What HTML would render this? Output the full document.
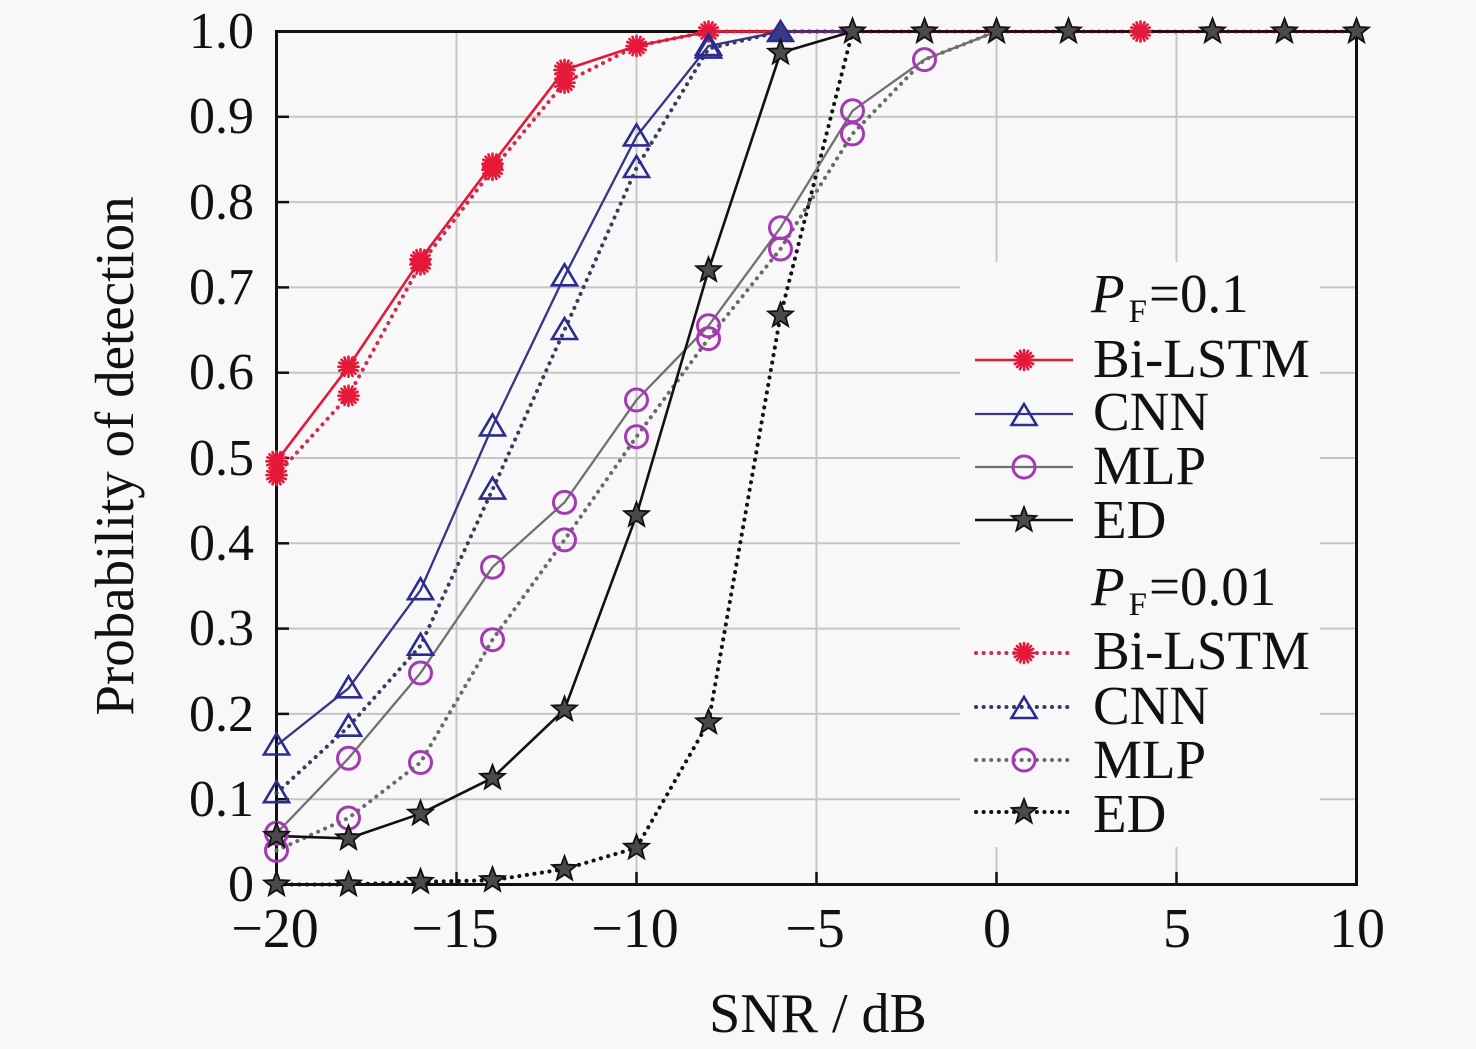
<!DOCTYPE html>
<html>
<head>
<meta charset="utf-8">
<style>
html,body{margin:0;padding:0;background:#f8f8f8;}
svg{display:block;}
text{font-family:"Liberation Serif","Times New Roman",serif;fill:#111;}
</style>
</head>
<body>
<svg width="1476" height="1049" viewBox="0 0 1476 1049" xmlns="http://www.w3.org/2000/svg">
<defs>
  <g id="ast">
    <g stroke="#e5183a" stroke-width="2.6" stroke-linecap="round">
      <line x1="0" y1="-10" x2="0" y2="10"/>
      <line x1="-10" y1="0" x2="10" y2="0"/>
      <line x1="-7" y1="-7" x2="7" y2="7"/>
      <line x1="-7" y1="7" x2="7" y2="-7"/>
      <line x1="-4" y1="-9.2" x2="4" y2="9.2"/>
      <line x1="4" y1="-9.2" x2="-4" y2="9.2"/>
      <line x1="-9.2" y1="-4" x2="9.2" y2="4"/>
      <line x1="-9.2" y1="4" x2="9.2" y2="-4"/>
    </g>
    <circle r="5" fill="#e5183a"/>
  </g>
  <polygon id="tri" points="0,-12 12.5,9 -12.5,9" fill="none" stroke="#2c2c90" stroke-width="2.6" stroke-linejoin="miter"/>
  <circle id="cir" r="11" fill="none" stroke="#a33ab3" stroke-width="3"/>
  <polygon id="star" points="0,-13 3.23,-4.45 12.36,-4.02 5.23,1.7 7.64,10.52 0,5.5 -7.64,10.52 -5.23,1.7 -12.36,-4.02 -3.23,-4.45" fill="#4a4a4a" stroke="#111" stroke-width="1.8" stroke-linejoin="miter"/>
</defs>

<rect x="0" y="0" width="1476" height="1049" fill="#f8f8f8"/>

<!-- grid -->
<g stroke="#c6c6c6" stroke-width="2">
  <line x1="276.5" y1="116.8" x2="1356.5" y2="116.8"/>
  <line x1="276.5" y1="202.1" x2="1356.5" y2="202.1"/>
  <line x1="276.5" y1="287.4" x2="1356.5" y2="287.4"/>
  <line x1="276.5" y1="372.7" x2="1356.5" y2="372.7"/>
  <line x1="276.5" y1="458.0" x2="1356.5" y2="458.0"/>
  <line x1="276.5" y1="543.3" x2="1356.5" y2="543.3"/>
  <line x1="276.5" y1="628.6" x2="1356.5" y2="628.6"/>
  <line x1="276.5" y1="713.9" x2="1356.5" y2="713.9"/>
  <line x1="276.5" y1="799.2" x2="1356.5" y2="799.2"/>
  <line x1="456.5" y1="31.5" x2="456.5" y2="884.5"/>
  <line x1="636.5" y1="31.5" x2="636.5" y2="884.5"/>
  <line x1="816.5" y1="31.5" x2="816.5" y2="884.5"/>
  <line x1="996.5" y1="31.5" x2="996.5" y2="884.5"/>
  <line x1="1176.5" y1="31.5" x2="1176.5" y2="884.5"/>
</g>

<!-- legend background -->
<rect x="960" y="262" width="360" height="585" fill="#f8f8f8"/>

<!-- axes frame -->
<rect x="276.5" y="31.5" width="1080" height="853" fill="none" stroke="#111" stroke-width="3"/>
<!-- ticks -->
<g stroke="#111" stroke-width="2.5">
  <line x1="276.5" y1="116.8" x2="289" y2="116.8"/>
  <line x1="276.5" y1="202.1" x2="289" y2="202.1"/>
  <line x1="276.5" y1="287.4" x2="289" y2="287.4"/>
  <line x1="276.5" y1="372.7" x2="289" y2="372.7"/>
  <line x1="276.5" y1="458.0" x2="289" y2="458.0"/>
  <line x1="276.5" y1="543.3" x2="289" y2="543.3"/>
  <line x1="276.5" y1="628.6" x2="289" y2="628.6"/>
  <line x1="276.5" y1="713.9" x2="289" y2="713.9"/>
  <line x1="276.5" y1="799.2" x2="289" y2="799.2"/>
  <line x1="456.5" y1="884.5" x2="456.5" y2="872"/>
  <line x1="636.5" y1="884.5" x2="636.5" y2="872"/>
  <line x1="816.5" y1="884.5" x2="816.5" y2="872"/>
  <line x1="996.5" y1="884.5" x2="996.5" y2="872"/>
  <line x1="1176.5" y1="884.5" x2="1176.5" y2="872"/>
</g>

<!-- y tick labels -->
<g font-size="52" text-anchor="end">
  <text x="254" y="48">1.0</text>
  <text x="254" y="133">0.9</text>
  <text x="254" y="219">0.8</text>
  <text x="254" y="304">0.7</text>
  <text x="254" y="389">0.6</text>
  <text x="254" y="475">0.5</text>
  <text x="254" y="560">0.4</text>
  <text x="254" y="645">0.3</text>
  <text x="254" y="731">0.2</text>
  <text x="254" y="816">0.1</text>
  <text x="254" y="901">0</text>
</g>
<!-- x tick labels -->
<g font-size="56" text-anchor="middle">
  <text x="275" y="947">−20</text>
  <text x="455" y="947">−15</text>
  <text x="635" y="947">−10</text>
  <text x="815" y="947">−5</text>
  <text x="997" y="947">0</text>
  <text x="1177" y="947">5</text>
  <text x="1357" y="947">10</text>
</g>
<!-- axis labels -->
<text x="818" y="1032" font-size="56" text-anchor="middle">SNR / dB</text>
<text transform="translate(133,456) rotate(-90)" font-size="55" text-anchor="middle">Probability of detection</text>

<!-- dotted series (PF=0.01) -->
<g fill="none" stroke-width="4" stroke-linecap="round" stroke-dasharray="0.1 7.5" stroke-linejoin="round">
  <polyline stroke="#d42a4c" points="276.5,475.1 348.5,395.7 420.5,264.4 492.5,169.7 564.5,82.7 636.5,46.0 708.5,31.5 780.5,31.5 852.5,31.5 924.5,31.5 996.5,31.5 1068.5,31.5 1140.5,31.5 1212.5,31.5 1284.5,31.5 1356.5,31.5"/>
  <polyline stroke="#3a3a5a" points="276.5,793.2 348.5,726.7 420.5,645.7 492.5,489.6 564.5,330.0 636.5,168.0 708.5,48.6 780.5,31.5 852.5,31.5"/>
  <polyline stroke="#6a6a6a" points="276.5,850.4 348.5,818.0 420.5,762.5 492.5,639.7 564.5,539.9 636.5,436.7 708.5,338.6 780.5,249.0 852.5,133.9 924.5,59.6 996.5,31.5"/>
  <polyline stroke="#111" points="276.5,884.5 348.5,884.5 420.5,881.9 492.5,880.2 564.5,869.1 636.5,847.8 708.5,722.4 780.5,315.5 852.5,31.5"/>
</g>

<!-- solid series (PF=0.1) -->
<g fill="none" stroke-linejoin="round">
  <polyline stroke="#e5183a" stroke-width="2.6" points="276.5,461.3 348.5,366.7 420.5,259.3 492.5,163.7 564.5,69.9 636.5,46.0 708.5,31.5 780.5,31.5 852.5,31.5 924.5,31.5 996.5,31.5 1068.5,31.5 1140.5,31.5 1212.5,31.5 1284.5,31.5 1356.5,31.5"/>
  <polyline stroke="#34348a" stroke-width="2.3" points="276.5,745.5 348.5,688.3 420.5,590.2 492.5,426.4 564.5,276.3 636.5,136.4 708.5,46.0 780.5,31.5 852.5,31.5"/>
  <polyline stroke="#707070" stroke-width="2.3" points="276.5,833.3 348.5,758.3 420.5,673.0 492.5,567.2 564.5,502.4 636.5,400.0 708.5,325.8 780.5,227.7 852.5,110.8 924.5,59.6 996.5,31.5"/>
  <polyline stroke="#111" stroke-width="2.6" points="276.5,835.9 348.5,838.4 420.5,813.7 492.5,777.9 564.5,709.6 636.5,515.2 708.5,270.3 780.5,52.8 852.5,31.5 924.5,31.5 996.5,31.5 1068.5,31.5 1140.5,31.5 1212.5,31.5 1284.5,31.5 1356.5,31.5"/>
</g>

<!-- Bi-LSTM markers -->
<use href="#ast" x="276.5" y="475.1"/><use href="#ast" x="348.5" y="395.7"/><use href="#ast" x="420.5" y="264.4"/><use href="#ast" x="492.5" y="169.7"/><use href="#ast" x="564.5" y="82.7"/><use href="#ast" x="636.5" y="46.0"/>
<use href="#ast" x="276.5" y="461.3"/><use href="#ast" x="348.5" y="366.7"/><use href="#ast" x="420.5" y="259.3"/><use href="#ast" x="492.5" y="163.7"/><use href="#ast" x="564.5" y="69.9"/><use href="#ast" x="708.5" y="31.5"/>

<!-- CNN markers -->
<use href="#tri" x="276.5" y="793.2"/><use href="#tri" x="348.5" y="726.7"/><use href="#tri" x="420.5" y="645.7"/><use href="#tri" x="492.5" y="489.6"/><use href="#tri" x="564.5" y="330.0"/><use href="#tri" x="636.5" y="168.0"/><use href="#tri" x="708.5" y="48.6"/>
<use href="#tri" x="276.5" y="745.5"/><use href="#tri" x="348.5" y="688.3"/><use href="#tri" x="420.5" y="590.2"/><use href="#tri" x="492.5" y="426.4"/><use href="#tri" x="564.5" y="276.3"/><use href="#tri" x="636.5" y="136.4"/><use href="#tri" x="708.5" y="46.0"/>
<polygon points="780.5,21 793,41 768,41" fill="#3a3a8a" stroke="#2c2c90" stroke-width="2.5"/>

<!-- MLP markers -->
<use href="#cir" x="276.5" y="850.4"/><use href="#cir" x="348.5" y="818.0"/><use href="#cir" x="420.5" y="762.5"/><use href="#cir" x="492.5" y="639.7"/><use href="#cir" x="564.5" y="539.9"/><use href="#cir" x="636.5" y="436.7"/><use href="#cir" x="708.5" y="338.6"/><use href="#cir" x="780.5" y="249.0"/><use href="#cir" x="852.5" y="133.9"/><use href="#cir" x="924.5" y="59.6"/>
<use href="#cir" x="276.5" y="833.3"/><use href="#cir" x="348.5" y="758.3"/><use href="#cir" x="420.5" y="673.0"/><use href="#cir" x="492.5" y="567.2"/><use href="#cir" x="564.5" y="502.4"/><use href="#cir" x="636.5" y="400.0"/><use href="#cir" x="708.5" y="325.8"/><use href="#cir" x="780.5" y="227.7"/><use href="#cir" x="852.5" y="110.8"/>

<!-- ED markers -->
<use href="#star" x="276.5" y="884.5"/><use href="#star" x="348.5" y="884.5"/><use href="#star" x="420.5" y="881.9"/><use href="#star" x="492.5" y="880.2"/><use href="#star" x="564.5" y="869.1"/><use href="#star" x="636.5" y="847.8"/><use href="#star" x="708.5" y="722.4"/><use href="#star" x="780.5" y="315.5"/>
<use href="#star" x="276.5" y="835.9"/><use href="#star" x="348.5" y="838.4"/><use href="#star" x="420.5" y="813.7"/><use href="#star" x="492.5" y="777.9"/><use href="#star" x="564.5" y="709.6"/><use href="#star" x="636.5" y="515.2"/><use href="#star" x="708.5" y="270.3"/><use href="#star" x="780.5" y="52.8"/>
<use href="#star" x="852.5" y="31.5"/><use href="#star" x="924.5" y="31.5"/><use href="#star" x="996.5" y="31.5"/><use href="#star" x="1068.5" y="31.5"/><use href="#star" x="1212.5" y="31.5"/><use href="#star" x="1284.5" y="31.5"/><use href="#star" x="1356.5" y="31.5"/>
<use href="#ast" x="1140.5" y="31.5"/>

<!-- Legend -->
<g font-size="55">
  <text x="1091" y="312"><tspan font-style="italic">P</tspan><tspan font-size="33" dx="4" dy="10">F</tspan><tspan dx="2" dy="-10">=0.1</tspan></text>
  <text x="1093" y="377">Bi-LSTM</text>
  <text x="1093" y="430">CNN</text>
  <text x="1093" y="484">MLP</text>
  <text x="1093" y="538">ED</text>
  <text x="1091" y="605"><tspan font-style="italic">P</tspan><tspan font-size="33" dx="4" dy="10">F</tspan><tspan dx="2" dy="-10">=0.01</tspan></text>
  <text x="1093" y="669">Bi-LSTM</text>
  <text x="1093" y="724">CNN</text>
  <text x="1093" y="778">MLP</text>
  <text x="1093" y="832">ED</text>
</g>
<g fill="none">
  <line x1="975" y1="360" x2="1073" y2="360" stroke="#e5183a" stroke-width="2.6"/>
  <line x1="975" y1="414" x2="1073" y2="414" stroke="#34348a" stroke-width="2.3"/>
  <line x1="975" y1="467" x2="1073" y2="467" stroke="#707070" stroke-width="2.3"/>
  <line x1="975" y1="520" x2="1073" y2="520" stroke="#111" stroke-width="2.6"/>
  <g stroke-width="4" stroke-linecap="round" stroke-dasharray="0.1 7.5">
    <line x1="976" y1="653" x2="1072" y2="653" stroke="#d42a4c"/>
    <line x1="976" y1="707" x2="1072" y2="707" stroke="#3a3a5a"/>
    <line x1="976" y1="760" x2="1072" y2="760" stroke="#6a6a6a"/>
    <line x1="976" y1="812" x2="1072" y2="812" stroke="#111"/>
  </g>
</g>
<use href="#ast" x="1024" y="360"/>
<use href="#tri" x="1024" y="416"/>
<use href="#cir" x="1024" y="467"/>
<use href="#star" x="1024" y="520"/>
<use href="#ast" x="1024" y="653"/>
<use href="#tri" x="1024" y="709"/>
<use href="#cir" x="1024" y="760"/>
<use href="#star" x="1024" y="812"/>
</svg>
</body>
</html>
